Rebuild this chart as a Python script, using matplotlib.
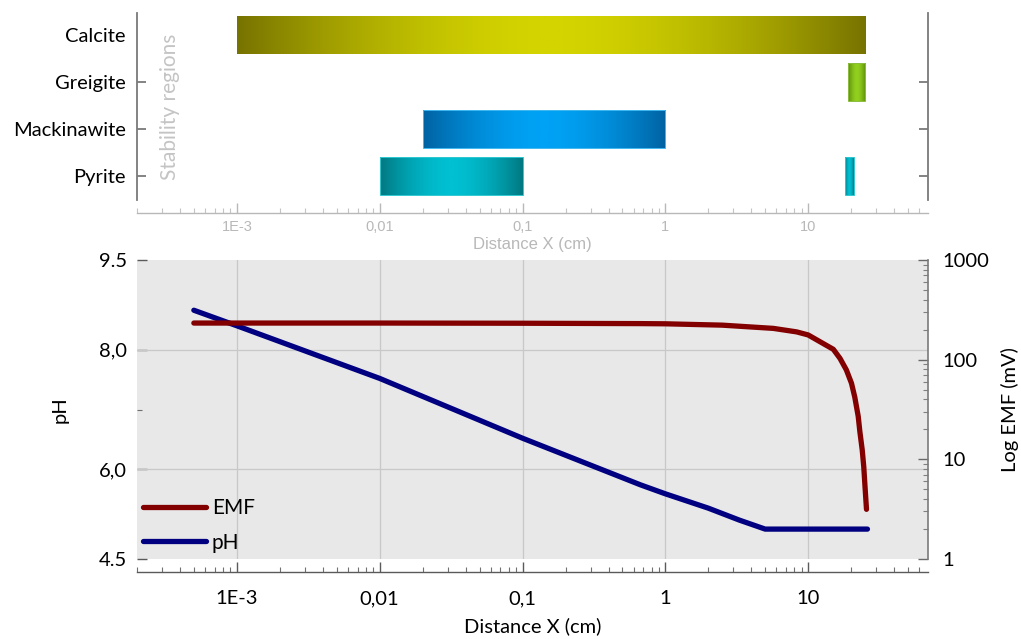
import numpy as np
import matplotlib
matplotlib.use("Agg")
import matplotlib.pyplot as plt
from matplotlib.colors import LinearSegmentedColormap
from matplotlib.ticker import FixedLocator, FixedFormatter, LogLocator, NullFormatter

# ---------------- data ----------------
minerals = ["Pyrite", "Mackinawite", "Greigite", "Calcite"]
# stability ranges (cm): start, end
pyrite_start = [0.01, 18.2]
pyrite_end = [0.1, 21.0]
mackinawite_start = [0.02]
mackinawite_end = [1.0]
greigite_start = [19.0]
greigite_end = [25.0]
calcite_start = [1e-3]
calcite_end = [25.0]

ph_x = [5e-4, 1e-3, 0.01, 0.1, 0.67, 1, 2, 3.3, 5, 26]
ph_y = [8.66, 8.40, 7.52, 6.52, 5.74, 5.59, 5.35, 5.15, 5.0, 5.0]

emf_x = [5e-4, 1e-3, 0.01, 0.1, 0.67, 1, 2.5, 5.7, 8.3, 10, 15, 16.7, 18.5, 20.1,
         21.2, 22.4, 23, 23.9, 24.5, 25, 25.6]
emf_y = [233, 233, 233, 232, 230, 229, 222, 206, 190, 177, 127, 103, 79, 58,
         42, 27, 19, 12.4, 8.4, 5.3, 3.15]

x_ticks = [1e-3, 0.01, 0.1, 1, 10]
x_ticklabels = ["1E-3", "0,01", "0,1", "1", "10"]
ph_ticks = [4.5, 6.0, 8.0, 9.5]
ph_ticklabels = ["4.5", "6,0", "8,0", "9.5"]
emf_ticks = [1, 10, 100, 1000]
emf_ticklabels = ["1", "10", "100", "1000"]

# bar colours (dark end, bright centre, edge)
bar_colors = {
    "Pyrite": ("#007882", "#00c0d2", "#30c8d0"),
    "Mackinawite": ("#0062a2", "#00a2f5", "#40b8f0"),
    "Greigite": ("#5a8a08", "#92d020", "#8cbc40"),
    "Calcite": ("#777300", "#d4d400", "none"),
}

XMIN, XMAX = 2e-4, 69

MAIN_FONT = ["Lato", "DejaVu Sans"]
LIGHT_FONT = ["Liberation Sans", "DejaVu Sans"]
plt.rcParams["font.family"] = MAIN_FONT
FS = 14.5

fig = plt.figure(figsize=(10.21, 6.39), dpi=100)
W, H = 1021, 639

def frac(l, t, r, b):
    return [l / W, 1 - b / H, (r - l) / W, (b - t) / H]

# ---------------- top panel ----------------
axt = fig.add_axes(frac(137, 13, 928, 200))
axt.set_xscale("log")
axt.set_xlim(XMIN, XMAX)
axt.set_ylim(-0.51, 3.47)
axt.set_facecolor("none")

ranges = {
    "Pyrite": (pyrite_start, pyrite_end),
    "Mackinawite": (mackinawite_start, mackinawite_end),
    "Greigite": (greigite_start, greigite_end),
    "Calcite": (calcite_start, calcite_end),
}
bar_h = 0.8
t = np.linspace(0, 1, 400)
profile = 1 - np.abs(2 * t - 1) ** 1.7
to_axes = axt.transData + axt.transAxes.inverted()
for yi, name in enumerate(minerals):
    starts, ends = ranges[name]
    dark, bright, edge = bar_colors[name]
    cmap = LinearSegmentedColormap.from_list(name, [dark, bright])
    for s, e in zip(starts, ends):
        (a0, b0), (a1, b1) = to_axes.transform([(s, yi - bar_h / 2), (e, yi + bar_h / 2)])
        axt.imshow(profile[None, :], cmap=cmap, vmin=0, vmax=1, extent=(a0, a1, b0, b1),
                   transform=axt.transAxes, aspect="auto", interpolation="bilinear", zorder=2)
        axt.barh(yi, e - s, left=s, height=bar_h, facecolor="none", edgecolor=edge,
                 linewidth=0.7, zorder=3)
axt.set_xlim(XMIN, XMAX)
axt.set_ylim(-0.51, 3.47)

axt.spines["top"].set_visible(False)
for sp in ["left", "right"]:
    axt.spines[sp].set_color("#7a7a7a")
    axt.spines[sp].set_linewidth(1.3)
axt.spines["bottom"].set_position(("outward", 9.4))
axt.spines["bottom"].set_color("#b8b8b8")
axt.spines["bottom"].set_linewidth(1.0)

axt.yaxis.set_major_locator(FixedLocator([0, 1, 2, 3]))
axt.yaxis.set_major_formatter(FixedFormatter(minerals))
axt.tick_params(axis="y", which="major", direction="in", length=6.5, width=1.3,
                color="#7a7a7a", labelsize=FS, pad=8, right=True, labelright=False)
ticks = axt.yaxis.get_major_ticks()
ticks[3].tick1line.set_visible(False)
ticks[3].tick2line.set_visible(False)

axt.xaxis.set_major_locator(FixedLocator(x_ticks))
axt.xaxis.set_major_formatter(FixedFormatter(x_ticklabels))
axt.xaxis.set_minor_locator(LogLocator(base=10, subs=np.arange(2, 10), numticks=20))
axt.xaxis.set_minor_formatter(NullFormatter())
axt.tick_params(axis="x", which="major", direction="in", length=7, width=1.0,
                color="#b8b8b8", labelcolor="#b8b8b8", labelsize=10.5, pad=5)
axt.tick_params(axis="x", which="minor", direction="in", length=3.5, width=0.8,
                color="#c4c4c4")
for lab in axt.get_xticklabels():
    lab.set_fontfamily(LIGHT_FONT)
axt.set_xlabel("Distance X (cm)", color="#b8b8b8", fontsize=12, family=LIGHT_FONT, labelpad=2)

axt.text(0.042, 0.5, "Stability regions", transform=axt.transAxes, rotation=90,
         ha="center", va="center", color="#c4c4c4", fontsize=15)

# ---------------- bottom panel ----------------
ax = fig.add_axes(frac(137, 260, 928, 559))
ax.set_xscale("log")
ax.set_xlim(XMIN, XMAX)
ax.set_ylim(4.5, 9.5)
ax.set_facecolor("#e8e8e8")

ax.grid(axis="x", which="major", color="#c8c8c8", linewidth=0.9)
for yv in [6.0, 8.0]:
    ax.axhline(yv, color="#c8c8c8", linewidth=0.9, zorder=0.8)
ax.set_axisbelow(True)

lph, = ax.plot(ph_x, ph_y, color="#000080", linewidth=3.8, solid_capstyle="round",
               solid_joinstyle="round", label="pH", zorder=3)

ax.spines["top"].set_visible(False)
ax.spines["right"].set_visible(False)
ax.spines["left"].set_visible(False)
ax.spines["bottom"].set_position(("outward", 9.4))
ax.spines["bottom"].set_color("#5a5a5a")
ax.spines["bottom"].set_linewidth(1.0)

ax.xaxis.set_major_locator(FixedLocator(x_ticks))
ax.xaxis.set_major_formatter(FixedFormatter(x_ticklabels))
ax.xaxis.set_minor_locator(LogLocator(base=10, subs=np.arange(2, 10), numticks=20))
ax.xaxis.set_minor_formatter(NullFormatter())
ax.tick_params(axis="x", which="major", direction="in", length=7, width=1.0,
               color="#5a5a5a", labelsize=FS, pad=13)
ax.tick_params(axis="x", which="minor", direction="in", length=3.5, width=0.8,
               color="#707070")
ax.set_xlabel("Distance X (cm)", fontsize=FS, labelpad=7)

ax.yaxis.set_major_locator(FixedLocator(ph_ticks))
ax.yaxis.set_major_formatter(FixedFormatter(ph_ticklabels))
ax.yaxis.set_minor_locator(FixedLocator([7.0]))
ax.tick_params(axis="y", which="major", direction="in", length=7, width=1.0,
               color="#5a5a5a", labelsize=FS, pad=7)
ax.tick_params(axis="y", which="minor", direction="in", length=3.5, width=0.8,
               color="#707070")
ax.set_ylabel("pH", fontsize=FS, labelpad=22)

ax2 = ax.twinx()
ax2.set_yscale("log")
ax2.set_ylim(1, 1000)
ax2.set_xlim(XMIN, XMAX)
lemf, = ax2.plot(emf_x, emf_y, color="#820000", linewidth=3.8, solid_capstyle="round",
                 solid_joinstyle="round", label="EMF", zorder=3)
for sp in ["top", "left", "bottom"]:
    ax2.spines[sp].set_visible(False)
ax2.spines["right"].set_color("#7a7a7a")
ax2.spines["right"].set_linewidth(1.2)
ax2.yaxis.set_major_locator(FixedLocator(emf_ticks))
ax2.yaxis.set_major_formatter(FixedFormatter(emf_ticklabels))
ax2.yaxis.set_minor_locator(LogLocator(base=10, subs=np.arange(2, 10), numticks=20))
ax2.yaxis.set_minor_formatter(NullFormatter())
ax2.tick_params(axis="y", which="major", direction="in", length=7, width=1.0,
                color="#6a6a6a", labelsize=FS, pad=10)
ax2.tick_params(axis="y", which="minor", direction="in", length=3.5, width=0.8,
                color="#808080")
ax2.set_ylabel("Log EMF (mV)", fontsize=FS, labelpad=9)

leg = ax2.legend(handles=[lemf, lph], loc="lower left", bbox_to_anchor=(0.0, 0.0),
                 frameon=False, fontsize=15, handlelength=3.0, handletextpad=0.3,
                 labelspacing=0.7, borderaxespad=0.1, borderpad=0.2)

fig.savefig("out.png", dpi=100)
